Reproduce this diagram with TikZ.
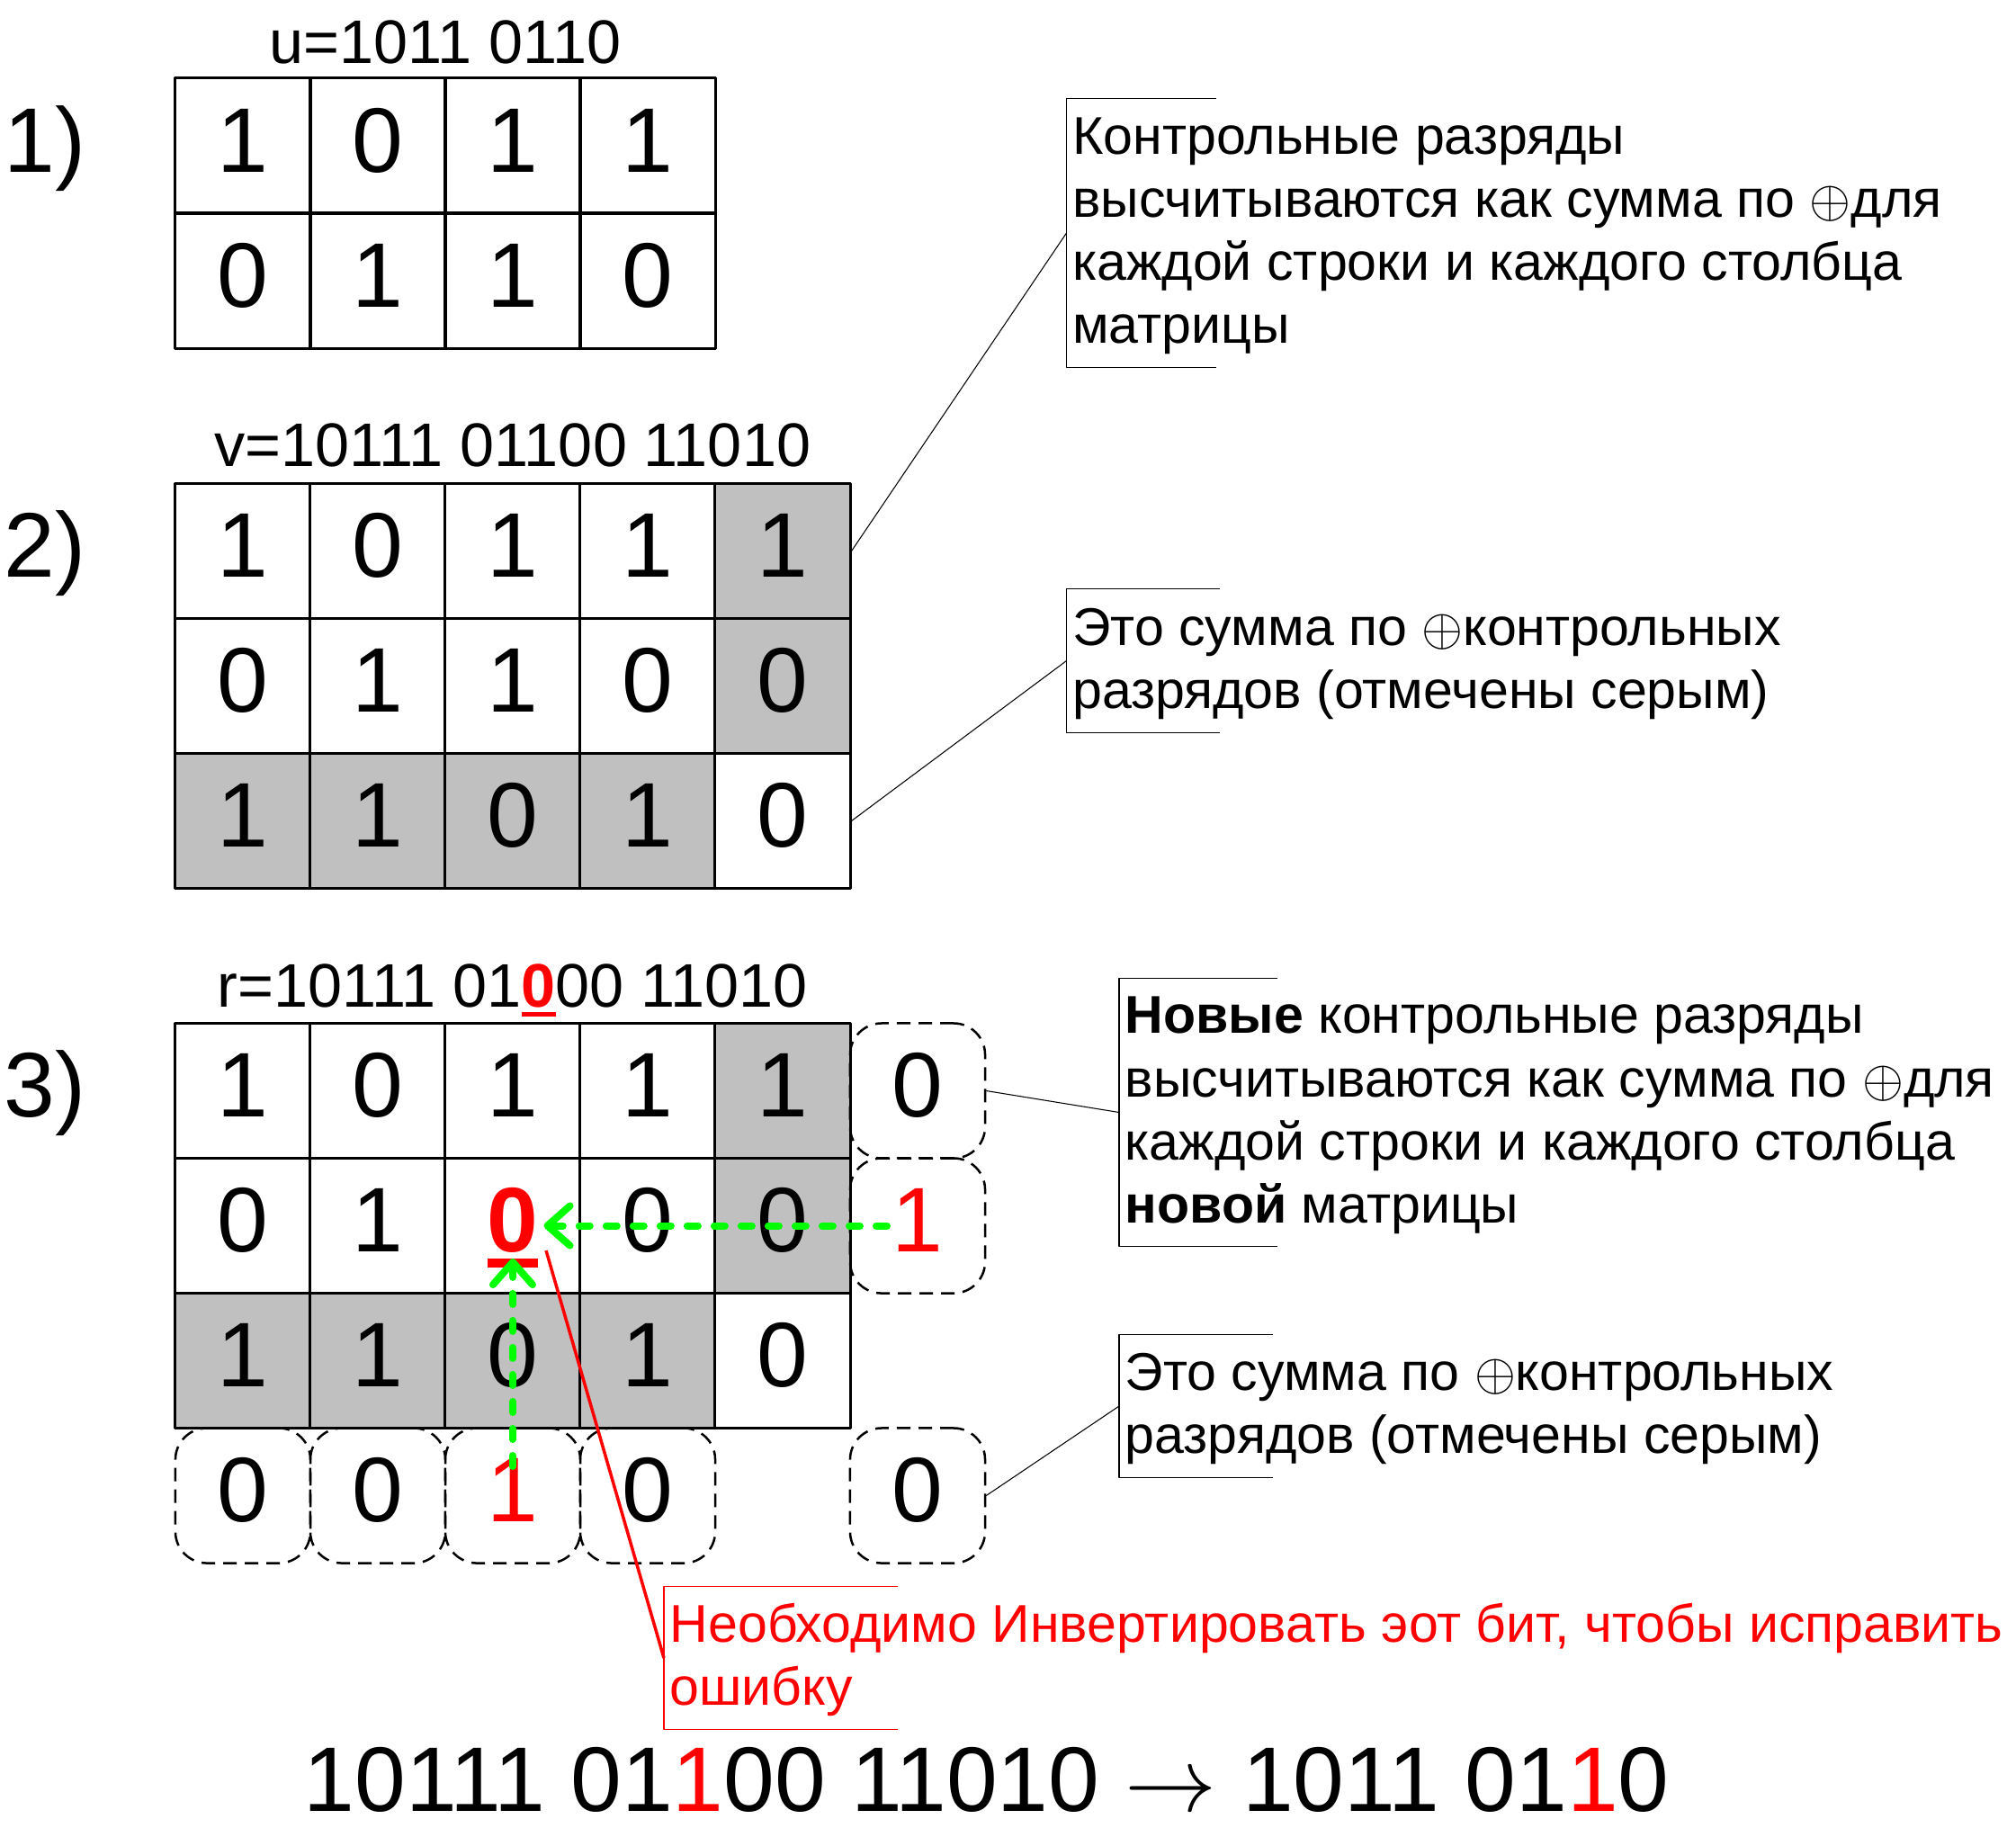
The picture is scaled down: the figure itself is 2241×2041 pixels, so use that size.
\RequirePackage{fix-cm}
\documentclass[tikz,border=0pt]{standalone}
\usepackage{fontspec}
\setmainfont{Liberation Sans}
\usetikzlibrary{arrows.meta}
\definecolor{cellgray}{RGB}{192,192,192}
\definecolor{checkgreen}{RGB}{0,255,0}
% red bold bit with a thick underline: #1 text, #2 depth, #3 thickness
\newcommand\errbit[3]{{\color{red}\bfseries\setbox0\hbox{#1}\rlap{\rule[-#2]{\wd0}{#3}}\box0}}
\newcommand\badbit{\errbit{0}{0.17cm}{0.1cm}}
% struts for the first and last line of a note
\newcommand\notetop{\rule{0pt}{0.51cm}}
\newcommand\notebot{\rule[-0.16cm]{0pt}{0pt}}
% bracket of a callout: #2 node, #3 arm length
\newcommand\callout[3][black]{\draw[#1,line width=0.3pt] ([xshift=#3]#2.north west) -- (#2.north west) -- (#2.south west) -- ([xshift=#3]#2.south west);}
\tikzset{
	big/.style={font=\fontsize{29}{34}\selectfont},
	cell/.style={draw, line width=0.03cm, minimum width=1.5cm, minimum height=1.5cm, inner sep=0pt, text height=0.72cm, text depth=0.14cm, big},
	g0/.style={fill=white},
	g1/.style={fill=cellgray},
	parity/.style={draw, line width=0.025cm, dash pattern=on 0.15cm off 0.09cm, rounded corners=0.35cm, minimum width=1.5cm, minimum height=1.5cm, inner sep=0pt, text height=0.72cm, text depth=0.14cm, big},
	word/.style={font=\fontsize{19.45}{23}\selectfont, inner sep=0pt, anchor=base},
	note/.style={font=\fontsize{16.8}{19.92}\selectfont, align=left, anchor=west, inner xsep=0.06cm, inner ysep=0pt},
	leader/.style={line width=0.3pt},
	check/.style={checkgreen, line width=0.08cm, line cap=round, dash pattern=on 0.12cm off 0.18cm, -{Straight Barb[length=0.25cm,width=0.44cm,round]}},
}
\begin{document}
\begin{tikzpicture}[x=0.01cm,y=-0.01cm,line join=round]
			\path[use as bounding box, fill=white] (0,0) rectangle (2241,2041);
			% step labels
			\node[big, anchor=base west, inner sep=0pt] (l1) at (4,191) {1)};
			\node[big, anchor=base west, inner sep=0pt] (l2) at (4,641.5) {2)};
			\node[big, anchor=base west, inner sep=0pt] (l3) at (4,1241.5) {3)};
			% 1) data word
			\node[word] (u) at (495,70) {u=1011 0110};
			\foreach \row [count=\j] in {{1,0,1,1},{0,1,1,0}}
				\foreach \v [count=\i] in \row
					\node[cell] (a-\j-\i) at ({120+150*\i},{12+150*\j}) {\v};
			% 2) code word
			\node[word] (v) at (570,518) {v=10111 01100 11010};
			\foreach \row [count=\j] in {{1,0,1,1,1},{0,1,1,0,0},{1,1,0,1,0}}
				\foreach \v [count=\i] in \row {
					\pgfmathtruncatemacro\g{(\i==5 && \j<3) || (\j==3 && \i<5)}
					\node[cell, g\g] (b-\j-\i) at ({120+150*\i},{462.5+150*\j}) {\v};
				}
			% 3) received word
			\node[word] (r) at (570,1119.5) {r=10111 01\errbit{0}{0.105cm}{0.05cm}00 11010};
			\foreach \row [count=\j] in {{1,0,1,1,1},{0,1,\badbit,0,0},{1,1,0,1,0}}
				\foreach \v [count=\i] in \row {
					\pgfmathtruncatemacro\g{(\i==5 && \j<3) || (\j==3 && \i<5)}
					\node[cell, g\g] (c-\j-\i) at ({120+150*\i},{1062.5+150*\j}) {\v};
				}
			\node[parity] (r1) at (1020,1212.5) {0};
			\node[parity] (r2) at (1020,1362.5) {\textcolor{red}{1}};
			\foreach \v [count=\i] in {0,0,\textcolor{red}{1},0}
				\node[parity] (s\i) at ({120+150*\i},1662.5) {\v};
			\node[parity] (s5) at (1020,1662.5) {0};
			\draw[check] ([xshift=-0.34cm]r2.center) -- ([xshift=0.345cm]c-2-3.center);
			\draw[check] ([yshift=0.325cm]s3.center) -- ([yshift=-0.365cm]c-2-3.center);
			% callouts
			\node[note, minimum height=2.97cm] (n1) at (1185.5,259) {\notetop Контрольные разряды\\высчитываются как сумма по $\oplus$для\\каждой строки и каждого столбца\\матрицы\notebot};
			\node[note, minimum height=1.58cm] (n2) at (1185.5,734.5) {\notetop Это сумма по $\oplus$контрольных\\разрядов (отмечены серым)\notebot};
			\node[note, minimum height=2.97cm] (n3) at (1244,1236.5) {\notetop\textbf{Новые} контрольные разряды\\высчитываются как сумма по $\oplus$для\\каждой строки и каждого столбца\\\textbf{новой} матрицы\notebot};
			\node[note, minimum height=1.58cm] (n4) at (1244,1563) {\notetop Это сумма по $\oplus$контрольных\\разрядов (отмечены серым)\notebot};
			\node[note, red, minimum height=1.57cm] (fix) at (738,1843) {\notetop Необходимо Инвертировать эот бит, чтобы исправить\\ошибку\notebot};
			\callout{n1}{1.665cm}
			\callout{n2}{1.7cm}
			\callout{n3}{1.76cm}
			\callout{n4}{1.71cm}
			\callout[red]{fix}{2.6cm}
			\draw[leader] (b-1-5.east) -- (n1.west);
			\draw[leader] (b-3-5.east) -- (n2.west);
			\draw[leader] (r1.east) -- (n3.west);
			\draw[leader] (s5.east) -- (n4.west);
			\draw[red, line width=0.035cm] ([shift={(0.37cm,-0.275cm)}]c-2-3.center) -- (fix.west);
			% decoded result
			\node[big, anchor=base west, inner sep=0pt] (res) at (337,2013) {10111 01\textcolor{red}{1}00 11010 $\rightarrow$ 1011 01\textcolor{red}{1}0};
		\end{tikzpicture}
\end{document}
